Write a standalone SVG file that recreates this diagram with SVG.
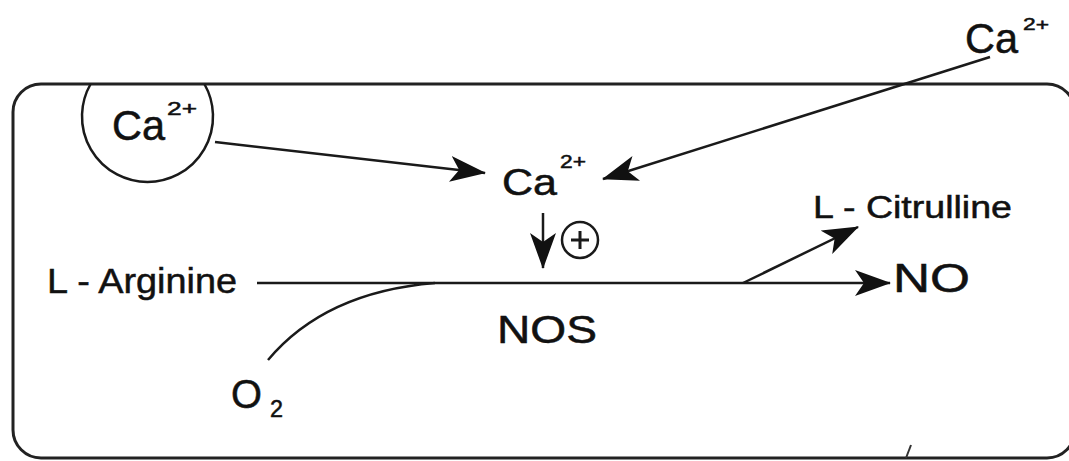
<svg xmlns="http://www.w3.org/2000/svg" width="1069" height="461" viewBox="0 0 1069 461">
<style>
.t{font-family:"Liberation Sans",Arial,sans-serif;fill:#111;stroke:#111;stroke-width:0.5}
.ln{fill:none;stroke:#1a1a1a;stroke-width:2.5}
.b{fill:none;stroke:#222;stroke-width:3}
</style>
<defs>
<marker id="ah" viewBox="0 0 36 26" refX="35" refY="13" markerWidth="36" markerHeight="26" markerUnits="userSpaceOnUse" orient="auto">
<path d="M36,13 L0,0 L9,13 L0,26 Z" fill="#111"/>
</marker>
</defs>
<rect width="1069" height="461" fill="#fff"/>
<g id="cell">
<rect class="b" x="13" y="84" width="1062" height="374" rx="28" ry="28"/>
<path d="M906,458 L911,445" stroke="#333" stroke-width="2" fill="none"/>
</g>
<g id="vesicle">
<path class="ln" d="M90.6,84 A65.5,65.5 0 1 0 204.4,84"/>
<text class="t" x="112" y="140" font-size="42" textLength="53" lengthAdjust="spacingAndGlyphs">Ca</text>
<text class="t" x="167" y="115" font-size="18" textLength="30" lengthAdjust="spacingAndGlyphs">2+</text>
</g>
<g id="ca-mid">
<text class="t" x="502" y="195" font-size="36" textLength="55" lengthAdjust="spacingAndGlyphs">Ca</text>
<text class="t" x="560" y="168" font-size="18" textLength="26" lengthAdjust="spacingAndGlyphs">2+</text>
</g>
<g id="ca-ext">
<text class="t" x="965" y="53" font-size="42" textLength="53" lengthAdjust="spacingAndGlyphs">Ca</text>
<text class="t" x="1023" y="30" font-size="17" textLength="26" lengthAdjust="spacingAndGlyphs">2+</text>
</g>
<g id="plus">
<circle cx="580" cy="240" r="18" fill="none" stroke="#1a1a1a" stroke-width="2.5"/>
<path d="M571,240 H589 M580,231 V249" stroke="#1a1a1a" stroke-width="3" fill="none"/>
</g>
<g id="arginine">
<text class="t" x="47" y="293" font-size="35" textLength="190" lengthAdjust="spacingAndGlyphs">L - Arginine</text>
</g>
<g id="citrulline">
<text class="t" x="813" y="218" font-size="31" textLength="199" lengthAdjust="spacingAndGlyphs">L - Citrulline</text>
</g>
<g id="no">
<text class="t" x="893" y="292" font-size="40" textLength="77" lengthAdjust="spacingAndGlyphs">NO</text>
</g>
<g id="nos">
<text class="t" x="497" y="343" font-size="38" textLength="100" lengthAdjust="spacingAndGlyphs">NOS</text>
</g>
<g id="o2">
<text class="t" x="231" y="408" font-size="41" textLength="31" lengthAdjust="spacingAndGlyphs">O</text>
<text class="t" x="270" y="417" font-size="23" textLength="13" lengthAdjust="spacingAndGlyphs">2</text>
</g>
<g id="connectors">
<path class="ln" d="M215,142 L485,173" marker-end="url(#ah)"/>
<path class="ln" d="M990,57 L603,179" marker-end="url(#ah)"/>
<path class="ln" d="M543,213 L543,268" marker-end="url(#ah)"/>
<path class="ln" d="M257,283 L890,283" marker-end="url(#ah)"/>
<path class="ln" d="M743,283 L858,227" marker-end="url(#ah)"/>
<path class="ln" d="M268,360 Q325,292 435,283"/>
</g>
</svg>
